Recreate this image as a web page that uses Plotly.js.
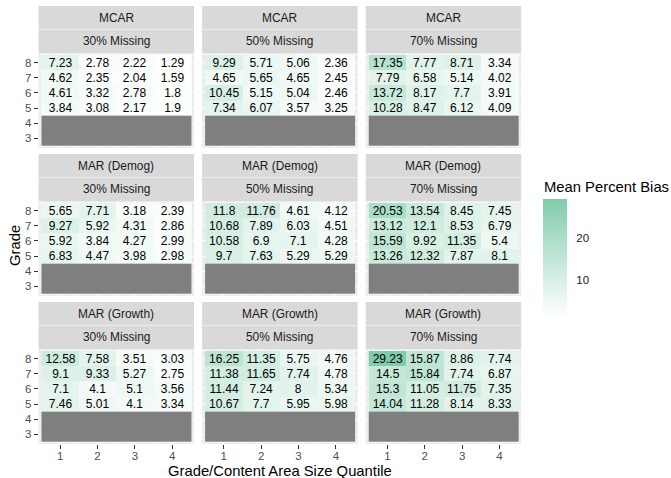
<!DOCTYPE html>
<html>
<head>
<meta charset="utf-8">
<script src="https://cdn.plot.ly/plotly-3.0.1.min.js"></script>
<style>html,body{margin:0;padding:0;background:#fff;}#chart{width:671px;height:478px;}</style>
</head>
<body>
<div id="chart"></div>
<script>
// ---------------- DATA ----------------
const quantiles = [1, 2, 3, 4];
const gradesObserved = [8, 7, 6, 5];
const gradesMissing = [4, 3];
const gradeTicks = [3, 4, 5, 6, 7, 8];
const mechanisms = ["MCAR", "MAR (Demog)", "MAR (Growth)"];
const missingRates = ["30% Missing", "50% Missing", "70% Missing"];
const legendTicks = [10, 20];

// rows: grade 8, 7, 6, 5 ; columns: quantile 1..4
const mcar30 = [[7.23, 2.78, 2.22, 1.29], [4.62, 2.35, 2.04, 1.59], [4.61, 3.32, 2.78, 1.8], [3.84, 3.08, 2.17, 1.9]];
const mcar50 = [[9.29, 5.71, 5.06, 2.36], [4.65, 5.65, 4.65, 2.45], [10.45, 5.15, 5.04, 2.46], [7.34, 6.07, 3.57, 3.25]];
const mcar70 = [[17.35, 7.77, 8.71, 3.34], [7.79, 6.58, 5.14, 4.02], [13.72, 8.17, 7.7, 3.91], [10.28, 8.47, 6.12, 4.09]];
const demog30 = [[5.65, 7.71, 3.18, 2.39], [9.27, 5.92, 4.31, 2.86], [5.92, 3.84, 4.27, 2.99], [6.83, 4.47, 3.98, 2.98]];
const demog50 = [[11.8, 11.76, 4.61, 4.12], [10.68, 7.89, 6.03, 4.51], [10.58, 6.9, 7.1, 4.28], [9.7, 7.63, 5.29, 5.29]];
const demog70 = [[20.53, 13.54, 8.45, 7.45], [13.12, 12.1, 8.53, 6.79], [15.59, 9.92, 11.35, 5.4], [13.26, 12.32, 7.87, 8.1]];
const growth30 = [[12.58, 7.58, 3.51, 3.03], [9.1, 9.33, 5.27, 2.75], [7.1, 4.1, 5.1, 3.56], [7.46, 5.01, 4.1, 3.34]];
const growth50 = [[16.25, 11.35, 5.75, 4.76], [11.38, 11.65, 7.74, 4.78], [11.44, 7.24, 8, 5.34], [10.67, 7.7, 5.95, 5.98]];
const growth70 = [[29.23, 15.87, 8.86, 7.74], [14.5, 15.84, 7.74, 6.87], [15.3, 11.05, 11.75, 7.35], [14.04, 11.28, 8.14, 8.33]];

const panels = [
  [mcar30, mcar50, mcar70],
  [demog30, demog50, demog70],
  [growth30, growth50, growth70]
];

// ---------------- STYLE / LAYOUT ----------------
const W = 671, H = 478;
const FONT = "Liberation Sans, Arial, Helvetica, sans-serif";
const colLeft = [38.5, 202.1, 365.7];
const panelW = 155.5;
const panelTop = [53, 201, 349];
const panelH = 95;
const stripH = 23.5;
const xRange = [0.42, 4.58];
const yRange = [2.37, 8.63];

// Lab interpolation white -> green (like ggplot's gradient)
function toLin(c){c/=255;return c<=0.04045?c/12.92:Math.pow((c+0.055)/1.055,2.4);}
function toSrgb(c){c=c<=0.0031308?12.92*c:1.055*Math.pow(c,1/2.4)-0.055;return Math.max(0,Math.min(255,Math.round(c*255)));}
const Xn=0.95047,Yn=1,Zn=1.08883;
function f(t){return t>0.008856?Math.cbrt(t):7.787*t+16/116;}
function finv(t){return t*t*t>0.008856?t*t*t:(t-16/116)/7.787;}
function rgb2lab(rgb){const r=toLin(rgb[0]),g=toLin(rgb[1]),b=toLin(rgb[2]);
  const X=r*0.4124+g*0.3576+b*0.1805,Y=r*0.2126+g*0.7152+b*0.0722,Z=r*0.0193+g*0.1192+b*0.9505;
  const fx=f(X/Xn),fy=f(Y/Yn),fz=f(Z/Zn);return [116*fy-16,500*(fx-fy),200*(fy-fz)];}
function lab2rgb(lab){const fy=(lab[0]+16)/116,fx=fy+lab[1]/500,fz=fy-lab[2]/200;
  const X=Xn*finv(fx),Y=Yn*finv(fy),Z=Zn*finv(fz);
  const r=3.2406*X-1.5372*Y-0.4986*Z,g=-0.9689*X+1.8758*Y+0.0415*Z,b=0.0557*X-0.2040*Y+1.0570*Z;
  return 'rgb('+toSrgb(r)+','+toSrgb(g)+','+toSrgb(b)+')';}
const lowC=rgb2lab([255,255,255]), highC=rgb2lab([127,204,173]);
const colorscale=[];
for(let i=0;i<=10;i++){const t=i/10;colorscale.push([t,lab2rgb([0,1,2].map(k=>lowC[k]+(highC[k]-lowC[k])*t))]);}

const allVals = panels.flat(3);
const vmin = Math.min(...allVals), vmax = Math.max(...allVals);

const traces = [];
const layout = {
  width: W, height: H,
  margin: {l: 0, r: 0, t: 0, b: 0},
  paper_bgcolor: '#FFFFFF',
  plot_bgcolor: '#EBEBEB',
  font: {family: FONT, color: '#1A1A1A'},
  showlegend: false,
  shapes: [],
  annotations: [],
  coloraxis: {
    colorscale: colorscale, cmin: vmin, cmax: vmax,
    colorbar: {
      x: 543/W, xanchor: 'left', xpad: 0,
      y: 1 - 199/H, yanchor: 'top', ypad: 0,
      len: 118, lenmode: 'pixels',
      thickness: 23.5, thicknessmode: 'pixels',
      outlinewidth: 0,
      tickmode: 'array', tickvals: legendTicks, ticktext: legendTicks.map(String),
      ticks: 'outside', ticklen: 7.5, tickcolor: '#FFFFFF', tickwidth: 1,
      tickfont: {family: FONT, size: 11.5, color: '#1A1A1A'},
      title: {text: ''}
    }
  }
};

for (let r = 0; r < 3; r++) {
  for (let c = 0; c < 3; c++) {
    const idx = r*3 + c + 1;
    const sfx = idx === 1 ? '' : String(idx);
    const data = panels[r][c];
    traces.push({
      type: 'heatmap', x: quantiles, y: gradesObserved, z: data,
      text: data.map(row => row.map(String)), texttemplate: '%{text}',
      textfont: {family: FONT, size: 12, color: '#000000'},
      coloraxis: 'coloraxis', xaxis: 'x' + sfx, yaxis: 'y' + sfx,
      hoverinfo: 'skip', xgap: 0, ygap: 0
    });
    traces.push({
      type: 'heatmap', x: quantiles, y: gradesMissing,
      z: gradesMissing.map(() => quantiles.map(() => 0)),
      colorscale: [[0, '#7F7F7F'], [1, '#7F7F7F']], showscale: false,
      xaxis: 'x' + sfx, yaxis: 'y' + sfx, hoverinfo: 'skip', xgap: 0, ygap: 0
    });
    const x0 = colLeft[c], x1 = colLeft[c] + panelW;
    const y0 = panelTop[r], y1 = panelTop[r] + panelH;
    const bottom = r === 2, left = c === 0;
    layout['xaxis' + sfx] = {
      anchor: 'y' + sfx, domain: [x0/W, x1/W], range: xRange, fixedrange: true,
      tickmode: 'array', tickvals: quantiles, ticktext: quantiles.map(String),
      showticklabels: bottom, ticks: bottom ? 'outside' : '', ticklen: 3.7, tickwidth: 1.07, tickcolor: '#333333',
      ticklabelstandoff: -3,
      tickfont: {family: FONT, size: 11.5, color: '#4D4D4D'},
      showgrid: true, gridcolor: '#FFFFFF', gridwidth: 1.07, zeroline: false, showline: false,
      minor: {showgrid: true, gridcolor: '#FFFFFF', gridwidth: 0.53, tick0: 0.5, dtick: 0.5}
    };
    layout['yaxis' + sfx] = {
      anchor: 'x' + sfx, domain: [1 - y1/H, 1 - y0/H], range: yRange, fixedrange: true,
      tickmode: 'array', tickvals: gradeTicks, ticktext: gradeTicks.map(String),
      showticklabels: left, ticks: left ? 'outside' : '', ticklen: 3.7, tickwidth: 1.07, tickcolor: '#333333',
      tickfont: {family: FONT, size: 11.5, color: '#4D4D4D'},
      showgrid: true, gridcolor: '#FFFFFF', gridwidth: 1.07, zeroline: false, showline: false,
      minor: {showgrid: true, gridcolor: '#FFFFFF', gridwidth: 0.53, tick0: 0.5, dtick: 0.5}
    };
    // strips
    const s1 = y0 - 2*stripH, s2 = y0 - stripH;
    layout.shapes.push({type: 'rect', xref: 'paper', yref: 'paper', x0: x0/W, x1: x1/W,
      y0: 1 - s1/H, y1: 1 - (s2 - 0.5)/H, fillcolor: '#D9D9D9', line: {width: 0}, layer: 'below'});
    layout.shapes.push({type: 'rect', xref: 'paper', yref: 'paper', x0: x0/W, x1: x1/W,
      y0: 1 - s2/H, y1: 1 - y0/H, fillcolor: '#D9D9D9', line: {width: 0}, layer: 'below'});
    layout.annotations.push({xref: 'paper', yref: 'paper', x: (x0 + x1)/2/W, y: 1 - (s1 + stripH/2)/H,
      text: mechanisms[r], showarrow: false, xanchor: 'center', yanchor: 'middle',
      font: {family: FONT, size: 11.9, color: '#1A1A1A'}});
    layout.annotations.push({xref: 'paper', yref: 'paper', x: (x0 + x1)/2/W, y: 1 - (s2 + stripH/2)/H,
      text: missingRates[c], showarrow: false, xanchor: 'center', yanchor: 'middle',
      font: {family: FONT, size: 11.9, color: '#1A1A1A'}});
  }
}

// axis titles & legend title
layout.annotations.push({xref: 'paper', yref: 'paper', x: (colLeft[0] + colLeft[2] + panelW)/2/W, y: 1 - 471/H,
  text: 'Grade/Content Area Size Quantile', showarrow: false, xanchor: 'center', yanchor: 'middle',
  font: {family: FONT, size: 14.8, color: '#000000'}});
layout.annotations.push({xref: 'paper', yref: 'paper', x: 15/W, y: 1 - 246/H,
  text: 'Grade', textangle: -90, showarrow: false, xanchor: 'center', yanchor: 'middle',
  font: {family: FONT, size: 14.8, color: '#000000'}});
layout.annotations.push({xref: 'paper', yref: 'paper', x: 542/W, y: 1 - 187/H,
  text: 'Mean Percent Bias', showarrow: false, xanchor: 'left', yanchor: 'middle',
  font: {family: FONT, size: 14.8, color: '#000000'}});

Plotly.newPlot('chart', traces, layout, {displayModeBar: false, staticPlot: true});
</script>
</body>
</html>
